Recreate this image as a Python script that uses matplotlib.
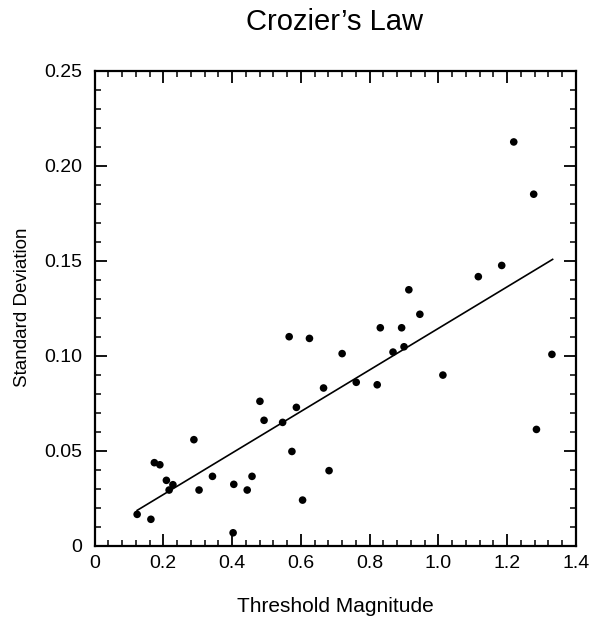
import matplotlib
matplotlib.use("Agg")
import matplotlib.pyplot as plt
from matplotlib.ticker import MultipleLocator, FixedLocator, FixedFormatter

# ---- data ----
threshold = [0.124, 0.164, 0.174, 0.190, 0.209, 0.217, 0.228, 0.289, 0.304, 0.343,
             0.405, 0.403, 0.444, 0.458, 0.481, 0.493, 0.547, 0.566, 0.574, 0.587,
             0.605, 0.625, 0.666, 0.682, 0.720, 0.761, 0.822, 0.831, 0.868, 0.893,
             0.900, 0.914, 0.946, 1.013, 1.116, 1.184, 1.219, 1.277, 1.285, 1.330]
std_dev = [0.0165, 0.0139, 0.0437, 0.0426, 0.0344, 0.0293, 0.0321, 0.0558, 0.0293, 0.0365,
           0.0323, 0.0068, 0.0293, 0.0365, 0.0760, 0.0660, 0.0649, 0.1100, 0.0496, 0.0728,
           0.0240, 0.1091, 0.0830, 0.0395, 0.1011, 0.0860, 0.0847, 0.1147, 0.1019, 0.1147,
           0.1047, 0.1347, 0.1218, 0.0898, 0.1416, 0.1475, 0.2125, 0.1850, 0.0612, 0.1007]

fit_x = [0.124, 1.332]
fit_y = [0.0186, 0.1507]

x_ticks = [0, 0.2, 0.4, 0.6, 0.8, 1.0, 1.2, 1.4]
x_tick_labels = ["0", "0.2", "0.4", "0.6", "0.8", "1.0", "1.2", "1.4"]
y_ticks = [0, 0.05, 0.10, 0.15, 0.20, 0.25]
y_tick_labels = ["0", "0.05", "0.10", "0.15", "0.20", "0.25"]

title = "Crozier\u2019s Law"
x_label = "Threshold Magnitude"
y_label = "Standard Deviation"

# ---- figure ----
plt.rcParams['font.family'] = ['Liberation Sans', 'DejaVu Sans']

W, H = 594, 627
fig = plt.figure(figsize=(W / 100, H / 100), dpi=100)
ax = fig.add_axes([94.5 / W, 1 - 545.7 / H, 481.5 / W, 475.0 / H])

ax.scatter(threshold, std_dev, s=30, color="black", edgecolors="none", zorder=3)
ax.plot(fit_x, fit_y, color="black", linewidth=1.2, zorder=2)

ax.set_xlim(0, 1.4)
ax.set_ylim(0, 0.25)

ax.xaxis.set_major_locator(FixedLocator(x_ticks))
ax.xaxis.set_major_formatter(FixedFormatter(x_tick_labels))
ax.xaxis.set_minor_locator(MultipleLocator(0.04))
ax.yaxis.set_major_locator(FixedLocator(y_ticks))
ax.yaxis.set_major_formatter(FixedFormatter(y_tick_labels))
ax.yaxis.set_minor_locator(MultipleLocator(0.01))

ax.tick_params(which="both", direction="in", top=True, right=True, color="black")
ax.tick_params(which="major", length=8.5, width=1.3, labelsize=14, pad=6.5)
ax.tick_params(which="minor", length=4.5, width=1.1)
ax.tick_params(axis="y", which="major", pad=9)

for sp in ax.spines.values():
    sp.set_linewidth(1.6)
    sp.set_color("black")

fig.text(335 / W, 1 - 22 / H, title, ha="center", va="center", fontsize=21)
fig.text(335 / W, 1 - 607 / H, x_label, ha="center", va="center", fontsize=15)
fig.text(23 / W, 1 - 307 / H, y_label, ha="center", va="center", rotation=90, fontsize=13.5)

fig.savefig("out.png", dpi=100)
